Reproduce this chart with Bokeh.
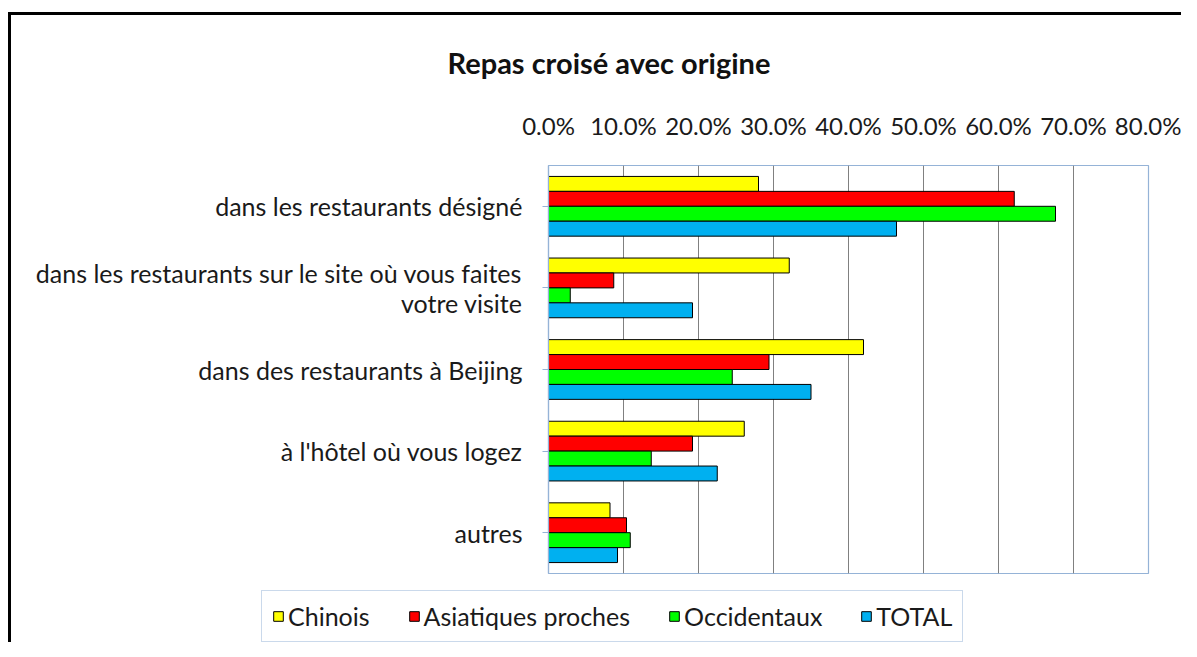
from bokeh.plotting import figure
from bokeh.models import (FactorRange, Range1d, FixedTicker, NumeralTickFormatter,
                          Legend, LegendItem, ColumnDataSource)
from bokeh.transform import dodge
from bokeh.embed import file_html
from bokeh.resources import INLINE

title = "Repas croisé avec origine"
categories = [
    "dans les restaurants désigné",
    "dans les restaurants sur le site où vous faites\nvotre visite",
    "dans des restaurants à Beijing",
    "à l'hôtel où vous logez",
    "autres",
]
series = ["Chinois", "Asiatiques proches", "Occidentaux", "TOTAL"]
chinois = [0.280, 0.321, 0.420, 0.261, 0.082]
asiatiques = [0.621, 0.087, 0.294, 0.192, 0.104]
occidentaux = [0.676, 0.029, 0.245, 0.137, 0.109]
total = [0.464, 0.192, 0.350, 0.225, 0.092]
ticks = [0.0, 0.1, 0.2, 0.3, 0.4, 0.5, 0.6, 0.7, 0.8]

colors = ["#FFFF00", "#FF0000", "#00FF00", "#00B0F0"]
FONT = "Lato"
BLUE = "#95B3D7"
TXT = "#1a1a1a"
FRAME_CSS = {"margin-left": "8px", "border-left": "3px solid black"}

src = ColumnDataSource(dict(cat=categories, Chinois=chinois,
                            **{"Asiatiques proches": asiatiques},
                            Occidentaux=occidentaux, TOTAL=total))

W, H1, H2 = 1173, 570, 60
p = figure(width=W, height=H1, output_backend="svg", toolbar_location=None,
           y_range=FactorRange(*list(reversed(categories)), range_padding=0),
           x_range=Range1d(0, 0.8), x_axis_location="above",
           min_border_left=537, min_border_right=36, min_border_top=148,
           min_border_bottom=12,
           styles=dict(FRAME_CSS, **{"margin-top": "12px", "border-top": "3px solid black"}))

offsets = [0.2745, 0.0915, -0.0915, -0.2745]
for s, c, off in zip(series, colors, offsets):
    p.hbar(y=dodge("cat", off, range=p.y_range), right=s, left=0, height=0.183,
           source=src, fill_color=c, line_color="black", line_width=1)

p.title.text = title
p.title.align = "left"
p.title.offset = -101
p.title.text_font = FONT
p.title.text_font_style = "bold"
p.title.text_font_size = "29px"
p.title.text_color = "#111111"
p.title.standoff = 55

p.outline_line_color = BLUE
p.outline_line_width = 1.2
p.ygrid.grid_line_color = None
p.xgrid.ticker = FixedTicker(ticks=ticks)
p.xgrid.grid_line_color = "#808080"
p.xgrid.grid_line_width = 1

xa = p.xaxis[0]
xa.ticker = FixedTicker(ticks=ticks)
xa.formatter = NumeralTickFormatter(format="0.0%")
xa.axis_line_color = None
xa.major_tick_line_color = None
xa.minor_tick_line_color = None
xa.major_label_standoff = 20
xa.major_label_text_font = FONT
xa.major_label_text_font_size = "24px"
xa.major_label_text_color = TXT

ya = p.yaxis[0]
ya.axis_line_color = BLUE
ya.axis_line_width = 1.2
ya.major_tick_line_color = BLUE
ya.major_tick_out = 6
ya.major_tick_in = 0
ya.major_label_standoff = 20
ya.major_label_text_font = FONT
ya.major_label_text_font_size = "25px"
ya.major_label_text_color = TXT
ya.major_label_text_line_height = 1.0

# legend strip below the chart (its bars fall outside its own x range)
pl = figure(width=W, height=H2, output_backend="svg", toolbar_location=None,
            min_border=0, x_axis_location=None, y_axis_location=None,
            x_range=Range1d(-2, -1), y_range=FactorRange(*categories),
            styles=FRAME_CSS)
pl.grid.visible = False
pl.outline_line_color = None
items = []
for s, c in zip(series, colors):
    r = pl.hbar(y="cat", right=s, left=0, height=0.5, source=src,
                fill_color=c, line_color="black", line_width=1)
    items.append(LegendItem(label=s, renderers=[r]))
legend = Legend(items=items, orientation="horizontal", location=(250, 0),
                border_line_color=BLUE, border_line_width=1.2,
                label_text_font=FONT, label_text_font_size="25px", label_text_color=TXT,
                glyph_width=12, glyph_height=12, label_standoff=4, spacing=38,
                padding=10, margin=0)
pl.add_layout(legend, "center")

open("out.html", "w").write(file_html([p, pl], INLINE))
